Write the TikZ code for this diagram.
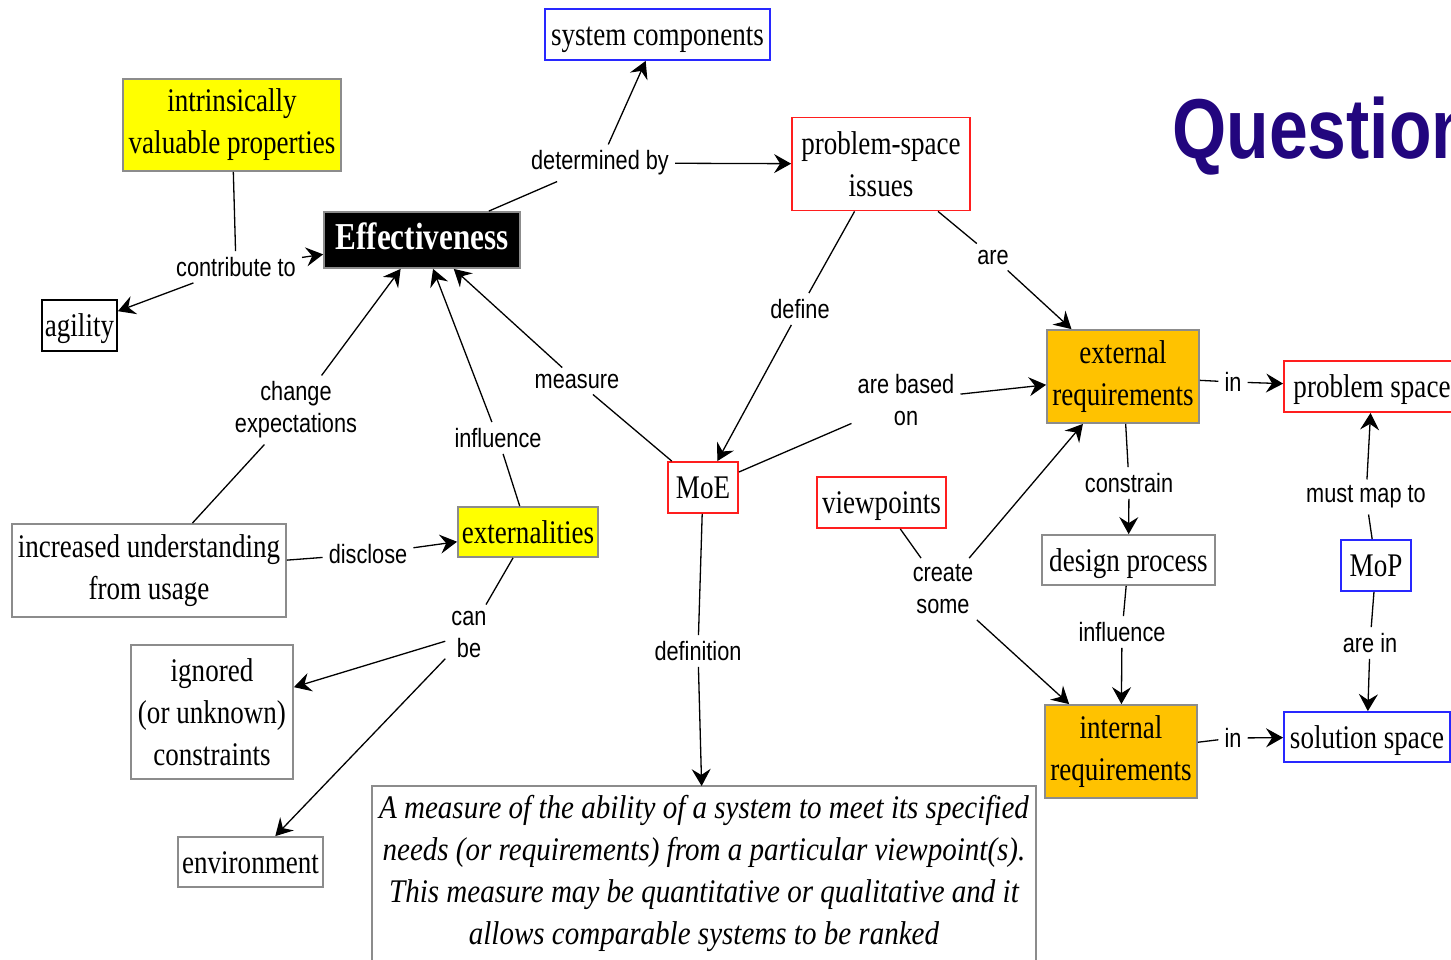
\documentclass[tikz,border=0pt]{standalone}
\usepackage{fontspec}
\setmainfont{Liberation Serif}[FakeStretch=0.82]
\newfontfamily\lblfamily{Liberation Sans}[FakeStretch=0.82]
\newfontfamily\deffamily{Liberation Serif}[FakeStretch=0.88]
\newfontfamily\titlefamily{Liberation Sans}[FakeStretch=0.82]
\usetikzlibrary{arrows.meta}

\definecolor{boxblue}{RGB}{40,40,255}
\definecolor{boxred}{RGB}{255,30,30}
\definecolor{boxgray}{RGB}{140,140,140}
\definecolor{yellowfill}{RGB}{255,255,0}
\definecolor{orangefill}{RGB}{255,194,0}
\definecolor{titleblue}{RGB}{34,6,126}

\newcommand\conceptfont{\fontsize{33}{42}\selectfont}
\newcommand\linkfont{\lblfamily\fontsize{26.5}{32}\selectfont}

\tikzset{
  box/.style={rectangle, inner sep=0pt, align=center, font=\conceptfont, line width=1.8pt},
  oneline/.style={text height=26pt, text depth=4pt},
  bluebox/.style={box, draw=boxblue},
  redbox/.style={box, draw=boxred},
  graybox/.style={box, draw=boxgray},
  blackbox/.style={box, draw=black},
  yellowbox/.style={box, draw=boxgray, fill=yellowfill},
  orangebox/.style={box, draw=boxgray, fill=orangefill},
  lbl/.style={font=\linkfont, align=center, inner sep=6pt},
  link/.style={line width=1.3pt},
  arr/.style={link, -{Stealth[length=17pt,width=19pt,inset=6pt]}},
}

\begin{document}
\begin{tikzpicture}[x=1pt, y=-1pt]
\useasboundingbox (0,0) rectangle (1451,959);
\clip (0,0) rectangle (1451,959);
\fill[white] (0,0) rectangle (1451,959);

% title
\node[anchor=base west, inner sep=0pt, text=titleblue,
      font={\titlefamily\bfseries\fontsize{85}{90}\selectfont}] (title) at (1172,158) {Questions};

% concepts
\node[bluebox, oneline, minimum width=225pt, minimum height=51pt] (sys) at (657.5,34.5) {system components};
\node[yellowbox, minimum width=218pt, minimum height=92pt] (intr) at (232,125) {intrinsically\\valuable properties};
\node[box, draw=boxgray, fill=black, text=white, font={\bfseries\fontsize{38}{42}\selectfont},
      text height=26pt, text depth=7pt,
      minimum width=196pt, minimum height=56pt] (eff) at (422,240) {Effectiveness};
\node[blackbox, oneline, minimum width=75pt, minimum height=51pt] (agility) at (79.5,325.5) {agility};
\node[redbox, minimum width=178pt, minimum height=93pt] (psi) at (881,164) {problem-space\\issues};
\node[orangebox, minimum width=152pt, minimum height=93pt] (ext) at (1123,376.5) {external\\requirements};
\node[redbox, oneline, minimum width=176pt, minimum height=51pt] (ps) at (1372,386.5) {problem space};
\node[redbox, oneline, minimum width=70pt, minimum height=51pt] (moe) at (703,487.5) {MoE};
\node[redbox, oneline, minimum width=129pt, minimum height=51pt] (vp) at (881.5,502.5) {viewpoints};
\node[graybox, minimum width=274pt, minimum height=93pt] (ius) at (149,570.5) {increased understanding\\from usage};
\node[yellowbox, oneline, minimum width=140pt, minimum height=50pt] (extl) at (528,532) {externalities};
\node[graybox, oneline, minimum width=173pt, minimum height=50pt] (dp) at (1128.5,560) {design process};
\node[bluebox, oneline, minimum width=70pt, minimum height=51pt] (mop) at (1376,565.5) {MoP};
\node[graybox, minimum width=162pt, minimum height=134pt] (ign) at (212,712) {ignored\\(or unknown)\\constraints};
\node[graybox, oneline, minimum width=145pt, minimum height=50pt] (env) at (250.5,862) {environment};
\node[orangebox, minimum width=152pt, minimum height=93pt] (int) at (1121,751.5) {internal\\requirements};
\node[bluebox, oneline, minimum width=166pt, minimum height=50pt] (sol) at (1367,737) {solution space};

% definition text, its frame runs on below the lower edge
\node[anchor=north, align=center, inner xsep=0pt, inner ysep=9pt, minimum width=664pt,
      font={\deffamily\itshape\fontsize{33}{42}\selectfont}] (def) at (704,786)
  {A measure of the ability of a system to meet its specified\\
   needs (or requirements) from a particular viewpoint(s).\\
   This measure may be quantitative or qualitative and it\\
   allows comparable systems to be ranked};
\draw[line width=1.8pt, draw=boxgray] ([yshift=-40pt]def.south west) |- (def.north east) -- ([yshift=-40pt]def.south east);

% linking phrases
\node[lbl] (lcontrib) at (236,267) {contribute to};
\node[lbl] (ldet) at (600,163) {determined by};
\node[lbl] (lchange) at (296,410) {change\\expectations};
\node[lbl] (linfl) at (498,438) {influence};
\node[lbl] (lmeas) at (577,381) {measure};
\node[lbl] (ldefine) at (800,309) {define};
\node[lbl] (lare) at (993,257) {are};
\node[lbl] (lbased) at (906,400) {are based\\on};
\node[lbl] (lin1) at (1233,382) {in};
\node[lbl] (lconstr) at (1129,483) {constrain};
\node[lbl] (linfl2) at (1122,632) {influence};
\node[lbl] (lcreate) at (943,589) {create\\some};
\node[lbl] (ldisc) at (368,554) {disclose};
\node[lbl] (lcan) at (469,634) {can\\be};
\node[lbl] (ldefn) at (698,651) {definition};
\node[lbl] (lmap) at (1366,497) {must map to};
\node[lbl] (larein) at (1370,643) {are in};
\node[lbl] (lin2) at (1233,738) {in};

% connections
\draw[link] (intr) -- (lcontrib);
\draw[arr] (lcontrib) -- (eff);
\draw[arr] (lcontrib) -- (agility);

\draw[link] (eff) -- (ldet);
\draw[arr] (ldet) -- (sys);
\draw[arr] (ldet) -- (psi);

\draw[link] (ius) -- (lchange);
\draw[arr] (lchange) -- (eff);

\draw[link] (extl) -- (linfl);
\draw[arr] (linfl) -- (eff);

\draw[link] (moe) -- (lmeas);
\draw[arr] (lmeas) -- (eff);

\draw[link] (psi) -- (ldefine);
\draw[arr] (ldefine) -- (moe);

\draw[link] (psi) -- (lare);
\draw[arr] (lare) -- (ext);

\draw[link] (moe) -- (lbased);
\draw[arr] (lbased) -- (ext);

\draw[link] (ext) -- (lin1);
\draw[arr] (lin1) -- (ps);

\draw[link] (ext) -- (lconstr);
\draw[arr] (lconstr) -- (dp);

\draw[link] (dp) -- (linfl2);
\draw[arr] (linfl2) -- (int);

\draw[link] (vp) -- (lcreate);
\draw[arr] (lcreate) -- (ext);
\draw[arr] (lcreate) -- (int);

\draw[link] (ius) -- (ldisc);
\draw[arr] (ldisc) -- (extl);

\draw[link] (extl) -- (lcan);
\draw[arr] (lcan) -- (ign);
\draw[arr] (lcan) -- (env);

\draw[link] (moe) -- (ldefn);
\draw[arr] (ldefn) -- (def);

\draw[link] (mop) -- (lmap);
\draw[arr] (lmap) -- (ps);

\draw[link] (mop) -- (larein);
\draw[arr] (larein) -- (sol);

\draw[link] (int) -- (lin2);
\draw[arr] (lin2) -- (sol);
\end{tikzpicture}
\end{document}
